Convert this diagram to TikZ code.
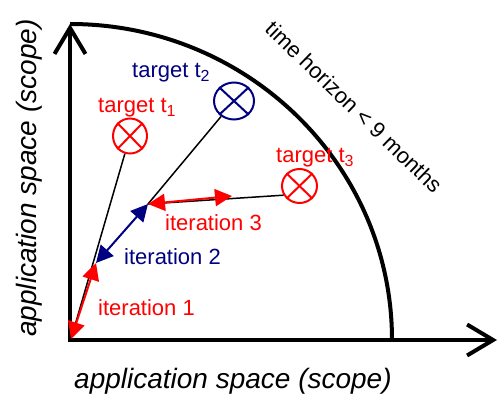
\documentclass[tikz,border=0pt]{standalone}
\usepackage{fontspec}
\setmainfont{Liberation Sans}
\usetikzlibrary{arrows.meta,shapes.geometric}
\definecolor{navyc}{RGB}{0,0,128}
\definecolor{redc}{RGB}{255,0,0}
\newcommand\mysub[1]{\raisebox{-4pt}{\fontsize{16}{16}\selectfont #1}}
\begin{document}
\begin{tikzpicture}[x=1pt,y=-1pt,
  axisline/.style={line width=4pt,line join=miter,
    {Straight Barb[length=26pt,width=31pt]}-{Straight Barb[length=26pt,width=31pt]}},
  rim/.style={line width=4pt},
  lbl/.style={inner sep=0pt,font=\fontsize{22}{26}\selectfont},
  axlbl/.style={inner sep=0pt,font=\fontsize{28}{32}\selectfont\itshape},
  tgt/.style={draw,line width=2pt,ellipse,inner sep=0pt},
  thin/.style={line width=1.5pt},
  iter/.style={line width=2pt,{Triangle[length=17pt,width=17pt]}-{Triangle[length=17pt,width=17pt]}}
]
\useasboundingbox (0,0) rectangle (498,398);
% axes
\coordinate (o0) at (70,340);
\coordinate (ytip) at (70,24);
\coordinate (xtip) at (497,340);
\draw[axisline] (ytip) -- (o0) -- (xtip);
% time horizon arc
\draw[rim] (70,24) arc[start angle=-90,end angle=0,x radius=322,y radius=316];
% targets
\node[tgt,redc,minimum width=34pt,minimum height=35pt] (t1) at (130,136) {};
\node[tgt,navyc,minimum width=40pt,minimum height=37pt] (t2) at (234,101) {};
\node[tgt,redc,minimum width=35pt,minimum height=34pt] (t3) at (299.5,186) {};
\foreach \t/\c in {t1/redc,t2/navyc,t3/redc}{
  \draw[line width=2pt,\c] (\t.north east) -- (\t.south west);
  \draw[line width=2pt,\c] (\t.north west) -- (\t.south east);
}
% path points
\coordinate (o) at (71,339);
\coordinate (p1) at (96,263);
\coordinate (p2) at (148,204);
\coordinate (p3) at (232,196);
% thin connectors
\draw[thin] (o) -- (t1);
\draw[thin] (p2) -- (t2);
\draw[thin] (p2) -- (t3.210);
% iterations
\draw[iter,redc] (o) -- (p1);
\draw[iter,navyc] (p1) -- (p2);
\draw[iter,redc] (p2) -- (p3);
% labels
\node[lbl,redc,anchor=base west] (lt1) at (98,113) {target t\mysub{1}};
\node[lbl,navyc,anchor=base west] (lt2) at (132,78) {target t\mysub{2}};
\node[lbl,redc,anchor=base west] (lt3) at (276,163) {target t\mysub{3}};
\node[lbl,redc,anchor=base west] (li1) at (98,315) {iteration 1};
\node[lbl,navyc,anchor=base west] (li2) at (124,265) {iteration 2};
\node[lbl,redc,anchor=base west] (li3) at (165,230) {iteration 3};
\node[lbl,rotate=-44] (th) at (354,107) {time horizon < 9 months};
\node[axlbl,anchor=base west] (ax) at (74,388) {application space (scope)};
\node[axlbl,anchor=base west,rotate=90] (ay) at (36,337) {application space (scope)};
\end{tikzpicture}
\end{document}
